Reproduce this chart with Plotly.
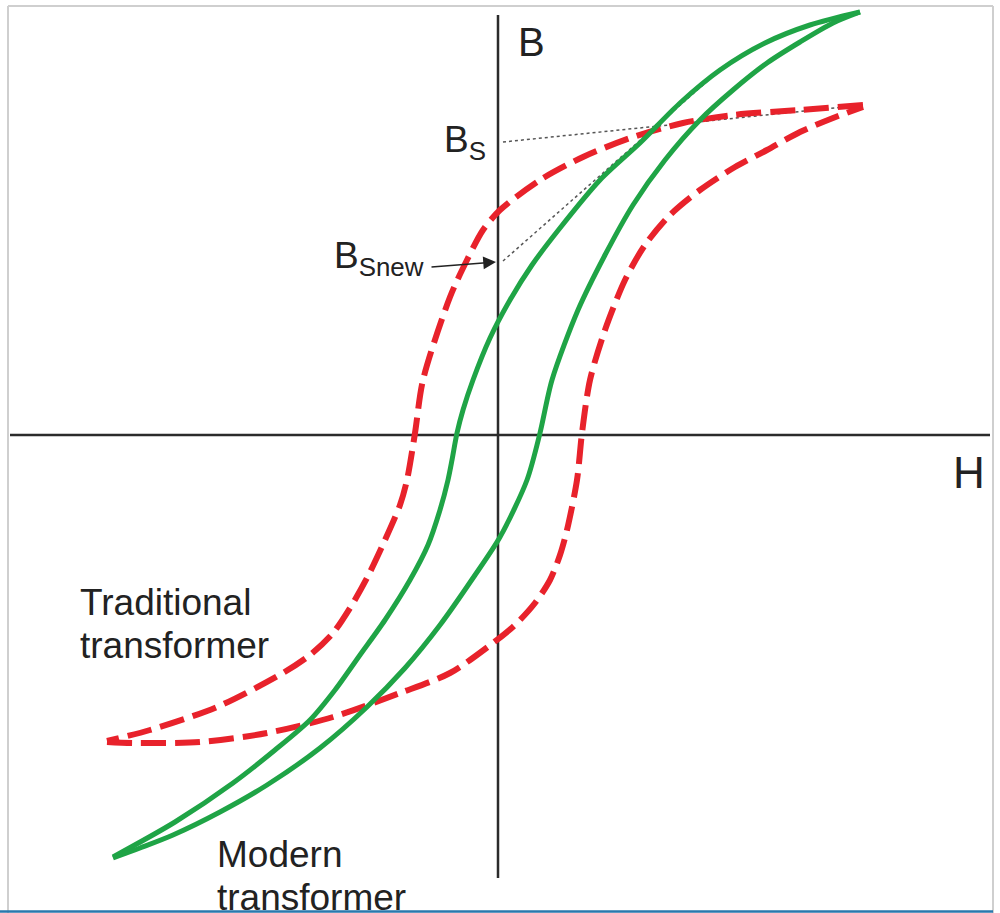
import plotly.graph_objects as go

# Coordinates: H and B in arbitrary units (origin where the axes cross)
# Modern transformer (green, solid) - descending (upper/left) branch
green_upper_H = [3.62, 3.12, 2.67, 2.22, 1.82, 1.42, 1.02, 0.62, 0.34, 0.12, -0.08, -0.25, -0.35, -0.41, -0.46, -0.50,
                 -0.58, -0.70, -0.88, -1.13, -1.38, -1.63, -1.88, -2.23, -2.65, -3.23, -3.85]
green_upper_B = [4.23, 4.10, 3.92, 3.65, 3.32, 2.92, 2.55, 2.07, 1.70, 1.35, 0.97, 0.55, 0.25, 0.02, -0.25, -0.45,
                 -0.75, -1.10, -1.45, -1.85, -2.20, -2.55, -2.85, -3.15, -3.48, -3.87, -4.22]
# ascending (lower/right) branch
green_lower_H = [3.62, 3.35, 3.02, 2.69, 2.35, 2.02, 1.67, 1.35, 1.07, 0.80, 0.54, 0.42, 0.29, 0.02, -0.25, -0.58, -0.93,
                 -1.31, -1.78, -2.31, -2.78, -3.25, -3.58, -3.85]
green_lower_B = [4.23, 4.12, 3.93, 3.72, 3.45, 3.15, 2.75, 2.30, 1.80, 1.25, 0.55, 0.02, -0.45, -1.02, -1.43, -1.90, -2.33,
                 -2.72, -3.13, -3.50, -3.77, -4.00, -4.13, -4.23]

# Traditional transformer (red, dashed) - descending (upper/left) branch
red_upper_H = [3.65, 3.02, 2.35, 1.85, 1.35, 0.85, 0.42, 0.02, -0.15, -0.31, -0.48, -0.75, -0.83, -0.91, -0.98,
               -1.13, -1.31, -1.48, -1.65, -1.88, -2.15, -2.81, -3.48, -3.91]
red_upper_B = [3.30, 3.25, 3.20, 3.12, 2.98, 2.78, 2.55, 2.25, 2.05, 1.75, 1.38, 0.55, 0.02, -0.45, -0.70,
               -1.05, -1.43, -1.73, -1.98, -2.20, -2.38, -2.72, -2.95, -3.06]
# ascending (lower/right) branch
red_lower_H = [-3.91, -3.65, -2.98, -2.31, -1.65, -0.98, -0.48, -0.05, 0.17, 0.37, 0.52, 0.62, 0.69, 0.79, 0.84,
               0.92, 1.07, 1.27, 1.47, 1.72, 2.02, 2.37, 2.69, 3.02, 3.35, 3.65]
red_lower_B = [-3.07, -3.08, -3.07, -2.98, -2.82, -2.58, -2.38, -2.08, -1.90, -1.68, -1.45, -1.20, -0.95, -0.45, 0.02,
               0.55, 1.05, 1.55, 1.90, 2.20, 2.45, 2.68, 2.85, 3.03, 3.17, 3.28]

# Dotted tangent lines (B_S and B_Snew)
bs_line_H = [0.05, 3.65]
bs_line_B = [2.93, 3.30]
bsnew_line_H = [0.05, 2.22]
bsnew_line_B = [1.74, 3.65]

GREEN = "#1fa446"
RED = "#e8222b"
AXIS = "#2b2b2b"
FONT = "Liberation Sans, Arial, sans-serif"

fig = go.Figure()

for hx, by in [(bs_line_H, bs_line_B), (bsnew_line_H, bsnew_line_B)]:
    fig.add_trace(go.Scatter(x=hx, y=by, mode="lines",
                             line=dict(color="#555555", width=1.5, dash="dot"),
                             hoverinfo="skip", showlegend=False))

for hx, by in [(red_upper_H, red_upper_B), (red_lower_H, red_lower_B)]:
    fig.add_trace(go.Scatter(x=hx, y=by, mode="lines",
                             line=dict(color=RED, width=6, dash="25px,9px", shape="spline", smoothing=0.8),
                             hoverinfo="skip", showlegend=False))

for hx, by in [(green_upper_H, green_upper_B), (green_lower_H, green_lower_B)]:
    fig.add_trace(go.Scatter(x=hx, y=by, mode="lines",
                             line=dict(color=GREEN, width=5, shape="spline", smoothing=0.8),
                             hoverinfo="skip", showlegend=False))

# Coordinate axes drawn as lines
fig.add_shape(type="line", xref="x", yref="y", x0=0, y0=4.20, x1=0, y1=-4.43,
              line=dict(color=AXIS, width=2.5), layer="below")
fig.add_shape(type="line", xref="x", yref="y", x0=-4.88, y0=0, x1=4.92, y1=0,
              line=dict(color=AXIS, width=2.5), layer="below")

# Frame
W, Hh = 1000.0, 913.0
def px(x): return x / W
def py(y): return 1 - y / Hh
frame = "#cfcfcf"
fig.add_shape(type="line", xref="paper", yref="paper", x0=px(8), y0=py(6), x1=px(993), y1=py(6), line=dict(color=frame, width=2))
fig.add_shape(type="line", xref="paper", yref="paper", x0=px(8), y0=py(6), x1=px(8), y1=py(913), line=dict(color=frame, width=2))
fig.add_shape(type="line", xref="paper", yref="paper", x0=px(993), y0=py(6), x1=px(993), y1=py(913), line=dict(color=frame, width=2))
fig.add_shape(type="line", xref="paper", yref="paper", x0=px(0), y0=py(911.5), x1=px(993), y1=py(911.5), line=dict(color="#2a78ad", width=2.5))

def label(text, x, y, size, xanchor="center", yanchor="middle"):
    fig.add_annotation(x=x, y=y, xref="x", yref="y", text=text, showarrow=False,
                       xanchor=xanchor, yanchor=yanchor, align="left",
                       font=dict(family=FONT, size=size, color="#222222"))

label("B", 0.33, 3.93, 40)
label("H", 4.71, -0.37, 44)
label("B<sub>S</sub>", -0.10, 2.93, 37, xanchor="right")
label("B<sub>Snew</sub>", -0.72, 1.77, 37, xanchor="right")
label("Traditional", -4.20, -1.67, 37, xanchor="left")
label("transformer", -4.20, -2.10, 37, xanchor="left")
label("Modern", -2.83, -4.19, 37, xanchor="left")
label("transformer", -2.83, -4.62, 37, xanchor="left")

# Arrow pointing to B_Snew
fig.add_annotation(x=-0.02, y=1.73, ax=-0.68, ay=1.68, xref="x", yref="y", axref="x", ayref="y",
                   text="", showarrow=True, arrowhead=2, arrowsize=1.7, arrowwidth=1.5, arrowcolor="#222222")

fig.update_layout(
    width=1000, height=913,
    margin=dict(l=0, r=0, t=0, b=0),
    paper_bgcolor="white", plot_bgcolor="white",
    xaxis=dict(range=[-4.98, 5.02], visible=False, fixedrange=True),
    yaxis=dict(range=[-4.78, 4.35], visible=False, fixedrange=True),
    showlegend=False,
)

fig.write_html("out.html", config={"displayModeBar": False},
               post_script="document.body.style.margin='0';document.body.style.overflow='hidden';")
